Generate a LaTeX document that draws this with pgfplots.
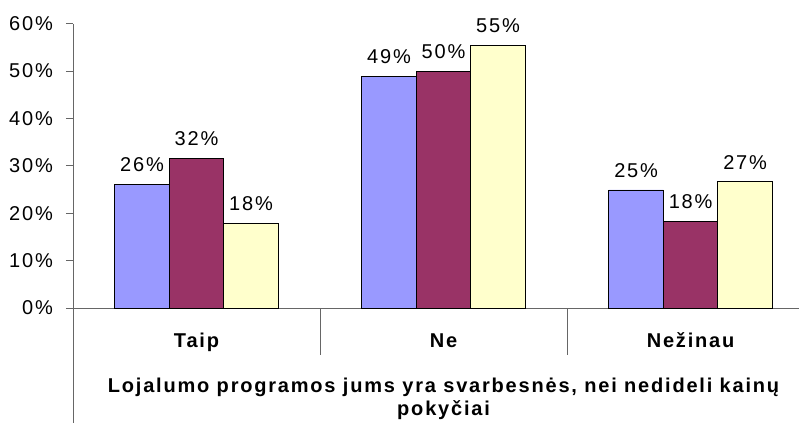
\documentclass[border=0pt]{standalone}
\usepackage{fontspec}
\setmainfont{Liberation Sans}[LetterSpace=9]
\usepackage{pgfplots}
\pgfplotsset{compat=1.18}
\definecolor{serA}{HTML}{9999FF}
\definecolor{serB}{HTML}{993366}
\definecolor{serC}{HTML}{FFFFCC}
\definecolor{axgray}{HTML}{666666}
\newcommand{\chartfont}{\fontsize{20}{23}\selectfont}

\begin{document}
\begin{tikzpicture}[font=\chartfont]
% page frame: room for tick labels on the left and the category rows below
\path[use as bounding box] (-73pt,-115pt) rectangle (726pt,308pt);
\begin{axis}[
  at={(0,0)}, anchor=south west,
  scale only axis,
  width=726pt, height=284.5pt,
  xmin=-0.5, xmax=2.439,
  ymin=0, ymax=60,
  ybar=0pt, bar width=54.5pt,
  axis x line*=bottom, axis y line*=left,
  axis line style={axgray, line width=0.8pt},
  xtick=\empty,
  ytick={0,10,...,60},
  yticklabel={\pgfmathprintnumber{\tick}\%},
  /pgf/number format/assume math mode=true,
  tick style={axgray, line width=0.8pt},
  major tick length=7pt, tick align=outside,
  yticklabel style={anchor=east, inner sep=0pt, xshift=-13pt},
  clip=false,
  nodes near coords={\pgfmathprintnumber[fixed, precision=0]{\pgfplotspointmeta}\%},
  every node near coord/.append style={yshift=9pt},
  every axis plot/.append style={draw=black, line width=0.8pt},
]
\addplot[fill=serA] coordinates {(0,26.1) (1,48.8) (2,24.9)};
\addplot[fill=serB] coordinates {(0,31.6) (1,49.9) (2,18.2)};
\addplot[fill=serC] coordinates {(0,17.9) (1,55.4) (2,26.6)};

% multi-level category axis: left extension and group separators
\draw[axgray, line width=0.8pt] (axis cs:-0.5,0) -- ++(0pt,-115pt);
\draw[axgray, line width=0.8pt] (axis cs:0.5,0) -- ++(0pt,-47pt);
\draw[axgray, line width=0.8pt] (axis cs:1.5,0) -- ++(0pt,-47pt);

% category names
\node[anchor=base, font=\chartfont\bfseries] at (axis cs:0,0) [yshift=-39pt] {Taip};
\node[anchor=base, font=\chartfont\bfseries] at (axis cs:1,0) [yshift=-39pt] {Ne};
\node[anchor=base, font=\chartfont\bfseries] at (axis cs:2,0) [yshift=-39pt] {Nežinau};

% question text
\node[anchor=base, font=\chartfont\bfseries] at (axis cs:1,0) [yshift=-84pt] {Lojalumo programos jums yra svarbesnės, nei nedideli kainų};
\node[anchor=base, font=\chartfont\bfseries] at (axis cs:1,0) [yshift=-107pt] {pokyčiai};
\end{axis}
\end{tikzpicture}
\end{document}
